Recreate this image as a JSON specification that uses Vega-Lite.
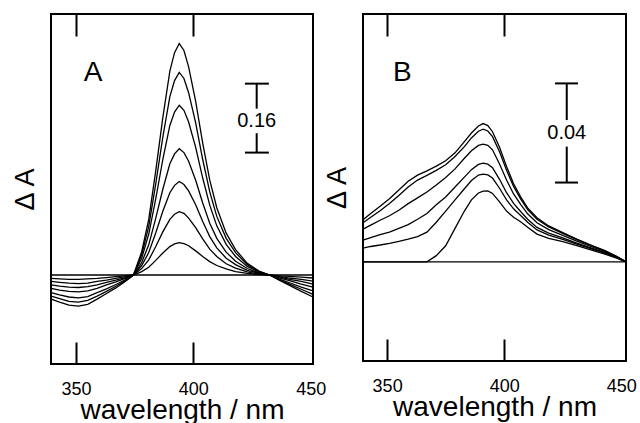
{
"$schema": "https://vega.github.io/schema/vega-lite/v6.json",
"padding": {"left": 10, "top": 12, "right": 0, "bottom": 0},
"spacing": 50,
"bounds": "flush",
"config": {
  "view": {"stroke": "black", "strokeWidth": 2},
  "font": "Liberation Sans",
  "axis": {"domain": false, "grid": false, "labelFont": "Liberation Sans", "labelFontSize": 18, "labelColor": "black", "titleFont": "Liberation Sans", "titleFontSize": 28, "titleFontWeight": "normal", "titleColor": "black", "tickColor": "black", "tickWidth": 2}
},
"datasets": {
"A": [
{"w":339.4,"c":0,"v":0},{"w":451,"c":0,"v":0},
{"w":339.4,"c":1,"v":-0.056},{"w":343,"c":1,"v":-0.063},{"w":347,"c":1,"v":-0.070},{"w":351,"c":1,"v":-0.072},{"w":355,"c":1,"v":-0.068},{"w":359,"c":1,"v":-0.056},{"w":363,"c":1,"v":-0.043},{"w":367,"c":1,"v":-0.030},{"w":371,"c":1,"v":-0.015},{"w":374.5,"c":1,"v":0},{"w":378,"c":1,"v":0.054},{"w":381,"c":1,"v":0.129},{"w":384,"c":1,"v":0.242},{"w":387,"c":1,"v":0.365},{"w":390,"c":1,"v":0.473},{"w":392,"c":1,"v":0.516},{"w":394,"c":1,"v":0.537},{"w":396,"c":1,"v":0.521},{"w":398,"c":1,"v":0.483},{"w":401,"c":1,"v":0.403},{"w":404,"c":1,"v":0.306},{"w":407,"c":1,"v":0.220},{"w":410,"c":1,"v":0.156},{"w":414,"c":1,"v":0.097},{"w":418,"c":1,"v":0.059},{"w":423,"c":1,"v":0.027},{"w":428,"c":1,"v":0.009},{"w":432.5,"c":1,"v":0},{"w":437,"c":1,"v":-0.013},{"w":441,"c":1,"v":-0.024},{"w":446,"c":1,"v":-0.038},{"w":451,"c":1,"v":-0.051},
{"w":339.4,"c":2,"v":-0.049},{"w":343,"c":2,"v":-0.055},{"w":347,"c":2,"v":-0.061},{"w":351,"c":2,"v":-0.063},{"w":355,"c":2,"v":-0.059},{"w":359,"c":2,"v":-0.049},{"w":363,"c":2,"v":-0.038},{"w":367,"c":2,"v":-0.026},{"w":371,"c":2,"v":-0.013},{"w":374.5,"c":2,"v":0},{"w":378,"c":2,"v":0.047},{"w":381,"c":2,"v":0.113},{"w":384,"c":2,"v":0.212},{"w":387,"c":2,"v":0.320},{"w":390,"c":2,"v":0.414},{"w":392,"c":2,"v":0.451},{"w":394,"c":2,"v":0.470},{"w":396,"c":2,"v":0.456},{"w":398,"c":2,"v":0.423},{"w":401,"c":2,"v":0.353},{"w":404,"c":2,"v":0.268},{"w":407,"c":2,"v":0.193},{"w":410,"c":2,"v":0.136},{"w":414,"c":2,"v":0.085},{"w":418,"c":2,"v":0.052},{"w":423,"c":2,"v":0.024},{"w":428,"c":2,"v":0.008},{"w":432.5,"c":2,"v":0},{"w":437,"c":2,"v":-0.012},{"w":441,"c":2,"v":-0.021},{"w":446,"c":2,"v":-0.033},{"w":451,"c":2,"v":-0.045},
{"w":339.4,"c":3,"v":-0.041},{"w":343,"c":3,"v":-0.046},{"w":347,"c":3,"v":-0.051},{"w":351,"c":3,"v":-0.053},{"w":355,"c":3,"v":-0.050},{"w":359,"c":3,"v":-0.041},{"w":363,"c":3,"v":-0.032},{"w":367,"c":3,"v":-0.022},{"w":371,"c":3,"v":-0.011},{"w":374.5,"c":3,"v":0},{"w":378,"c":3,"v":0.039},{"w":381,"c":3,"v":0.095},{"w":384,"c":3,"v":0.177},{"w":387,"c":3,"v":0.268},{"w":390,"c":3,"v":0.347},{"w":392,"c":3,"v":0.378},{"w":394,"c":3,"v":0.394},{"w":396,"c":3,"v":0.382},{"w":398,"c":3,"v":0.355},{"w":401,"c":3,"v":0.296},{"w":404,"c":3,"v":0.225},{"w":407,"c":3,"v":0.162},{"w":410,"c":3,"v":0.114},{"w":414,"c":3,"v":0.071},{"w":418,"c":3,"v":0.043},{"w":423,"c":3,"v":0.020},{"w":428,"c":3,"v":0.007},{"w":432.5,"c":3,"v":0},{"w":437,"c":3,"v":-0.010},{"w":441,"c":3,"v":-0.018},{"w":446,"c":3,"v":-0.028},{"w":451,"c":3,"v":-0.037},
{"w":339.4,"c":4,"v":-0.031},{"w":343,"c":4,"v":-0.035},{"w":347,"c":4,"v":-0.038},{"w":351,"c":4,"v":-0.039},{"w":355,"c":4,"v":-0.037},{"w":359,"c":4,"v":-0.031},{"w":363,"c":4,"v":-0.023},{"w":367,"c":4,"v":-0.016},{"w":371,"c":4,"v":-0.008},{"w":374.5,"c":4,"v":0},{"w":378,"c":4,"v":0.029},{"w":381,"c":4,"v":0.070},{"w":384,"c":4,"v":0.132},{"w":387,"c":4,"v":0.199},{"w":390,"c":4,"v":0.258},{"w":392,"c":4,"v":0.281},{"w":394,"c":4,"v":0.293},{"w":396,"c":4,"v":0.284},{"w":398,"c":4,"v":0.264},{"w":401,"c":4,"v":0.220},{"w":404,"c":4,"v":0.167},{"w":407,"c":4,"v":0.120},{"w":410,"c":4,"v":0.085},{"w":414,"c":4,"v":0.053},{"w":418,"c":4,"v":0.032},{"w":423,"c":4,"v":0.015},{"w":428,"c":4,"v":0.005},{"w":432.5,"c":4,"v":0},{"w":437,"c":4,"v":-0.007},{"w":441,"c":4,"v":-0.013},{"w":446,"c":4,"v":-0.021},{"w":451,"c":4,"v":-0.028},
{"w":339.4,"c":5,"v":-0.023},{"w":343,"c":5,"v":-0.026},{"w":347,"c":5,"v":-0.028},{"w":351,"c":5,"v":-0.029},{"w":355,"c":5,"v":-0.027},{"w":359,"c":5,"v":-0.023},{"w":363,"c":5,"v":-0.017},{"w":367,"c":5,"v":-0.012},{"w":371,"c":5,"v":-0.006},{"w":374.5,"c":5,"v":0},{"w":378,"c":5,"v":0.022},{"w":381,"c":5,"v":0.052},{"w":384,"c":5,"v":0.098},{"w":387,"c":5,"v":0.148},{"w":390,"c":5,"v":0.191},{"w":392,"c":5,"v":0.208},{"w":394,"c":5,"v":0.217},{"w":396,"c":5,"v":0.210},{"w":398,"c":5,"v":0.195},{"w":401,"c":5,"v":0.163},{"w":404,"c":5,"v":0.124},{"w":407,"c":5,"v":0.089},{"w":410,"c":5,"v":0.063},{"w":414,"c":5,"v":0.039},{"w":418,"c":5,"v":0.024},{"w":423,"c":5,"v":0.011},{"w":428,"c":5,"v":0.004},{"w":432.5,"c":5,"v":0},{"w":437,"c":5,"v":-0.005},{"w":441,"c":5,"v":-0.010},{"w":446,"c":5,"v":-0.015},{"w":451,"c":5,"v":-0.021},
{"w":339.4,"c":6,"v":-0.015},{"w":343,"c":6,"v":-0.017},{"w":347,"c":6,"v":-0.019},{"w":351,"c":6,"v":-0.020},{"w":355,"c":6,"v":-0.019},{"w":359,"c":6,"v":-0.015},{"w":363,"c":6,"v":-0.012},{"w":367,"c":6,"v":-0.008},{"w":371,"c":6,"v":-0.004},{"w":374.5,"c":6,"v":0},{"w":378,"c":6,"v":0.015},{"w":381,"c":6,"v":0.035},{"w":384,"c":6,"v":0.066},{"w":387,"c":6,"v":0.100},{"w":390,"c":6,"v":0.129},{"w":392,"c":6,"v":0.141},{"w":394,"c":6,"v":0.147},{"w":396,"c":6,"v":0.143},{"w":398,"c":6,"v":0.132},{"w":401,"c":6,"v":0.110},{"w":404,"c":6,"v":0.084},{"w":407,"c":6,"v":0.060},{"w":410,"c":6,"v":0.043},{"w":414,"c":6,"v":0.026},{"w":418,"c":6,"v":0.016},{"w":423,"c":6,"v":0.007},{"w":428,"c":6,"v":0.002},{"w":432.5,"c":6,"v":0},{"w":437,"c":6,"v":-0.004},{"w":441,"c":6,"v":-0.007},{"w":446,"c":6,"v":-0.010},{"w":451,"c":6,"v":-0.014},
{"w":339.4,"c":7,"v":-0.008},{"w":343,"c":7,"v":-0.009},{"w":347,"c":7,"v":-0.010},{"w":351,"c":7,"v":-0.010},{"w":355,"c":7,"v":-0.009},{"w":359,"c":7,"v":-0.008},{"w":363,"c":7,"v":-0.006},{"w":367,"c":7,"v":-0.004},{"w":371,"c":7,"v":-0.002},{"w":374.5,"c":7,"v":0},{"w":378,"c":7,"v":0.008},{"w":381,"c":7,"v":0.018},{"w":384,"c":7,"v":0.034},{"w":387,"c":7,"v":0.051},{"w":390,"c":7,"v":0.066},{"w":392,"c":7,"v":0.072},{"w":394,"c":7,"v":0.075},{"w":396,"c":7,"v":0.073},{"w":398,"c":7,"v":0.068},{"w":401,"c":7,"v":0.056},{"w":404,"c":7,"v":0.043},{"w":407,"c":7,"v":0.031},{"w":410,"c":7,"v":0.022},{"w":414,"c":7,"v":0.014},{"w":418,"c":7,"v":0.008},{"w":423,"c":7,"v":0.004},{"w":428,"c":7,"v":0.001},{"w":432.5,"c":7,"v":0},{"w":437,"c":7,"v":-0.002},{"w":441,"c":7,"v":-0.003},{"w":446,"c":7,"v":-0.005},{"w":451,"c":7,"v":-0.007}
],
"B": [
{"w":339.7,"c":0,"v":0},{"w":452,"c":0,"v":0},
{"w":339.7,"c":1,"v":0.0170},{"w":343,"c":1,"v":0.0195},{"w":347,"c":1,"v":0.0224},{"w":351,"c":1,"v":0.0255},{"w":355,"c":1,"v":0.0290},{"w":359,"c":1,"v":0.0325},{"w":363,"c":1,"v":0.0350},{"w":367,"c":1,"v":0.0367},{"w":371,"c":1,"v":0.0386},{"w":375,"c":1,"v":0.0408},{"w":379,"c":1,"v":0.0440},{"w":383,"c":1,"v":0.0485},{"w":386,"c":1,"v":0.0520},{"w":389,"c":1,"v":0.0548},{"w":391,"c":1,"v":0.0558},{"w":393,"c":1,"v":0.0550},{"w":395,"c":1,"v":0.0525},{"w":398,"c":1,"v":0.0462},{"w":401,"c":1,"v":0.0385},{"w":404,"c":1,"v":0.0315},{"w":407,"c":1,"v":0.0262},{"w":410,"c":1,"v":0.0218},{"w":414,"c":1,"v":0.0178},{"w":419,"c":1,"v":0.0145},{"w":425,"c":1,"v":0.0118},{"w":431,"c":1,"v":0.0092},{"w":437,"c":1,"v":0.0068},{"w":443,"c":1,"v":0.0045},{"w":448,"c":1,"v":0.0022},{"w":452,"c":1,"v":0},
{"w":339.7,"c":2,"v":0.0158},{"w":343,"c":2,"v":0.0180},{"w":347,"c":2,"v":0.0206},{"w":351,"c":2,"v":0.0235},{"w":355,"c":2,"v":0.0268},{"w":359,"c":2,"v":0.0302},{"w":363,"c":2,"v":0.0330},{"w":367,"c":2,"v":0.0349},{"w":371,"c":2,"v":0.0369},{"w":375,"c":2,"v":0.0392},{"w":379,"c":2,"v":0.0425},{"w":383,"c":2,"v":0.0465},{"w":386,"c":2,"v":0.0500},{"w":389,"c":2,"v":0.0527},{"w":391,"c":2,"v":0.0535},{"w":393,"c":2,"v":0.0528},{"w":395,"c":2,"v":0.0505},{"w":398,"c":2,"v":0.0444},{"w":401,"c":2,"v":0.0370},{"w":404,"c":2,"v":0.0304},{"w":407,"c":2,"v":0.0254},{"w":410,"c":2,"v":0.0211},{"w":414,"c":2,"v":0.0172},{"w":419,"c":2,"v":0.0141},{"w":425,"c":2,"v":0.0115},{"w":431,"c":2,"v":0.0090},{"w":437,"c":2,"v":0.0066},{"w":443,"c":2,"v":0.0044},{"w":448,"c":2,"v":0.0021},{"w":452,"c":2,"v":0},
{"w":339.7,"c":3,"v":0.0132},{"w":343,"c":3,"v":0.0148},{"w":347,"c":3,"v":0.0168},{"w":351,"c":3,"v":0.0186},{"w":355,"c":3,"v":0.0208},{"w":359,"c":3,"v":0.0235},{"w":363,"c":3,"v":0.0258},{"w":367,"c":3,"v":0.0282},{"w":371,"c":3,"v":0.0310},{"w":375,"c":3,"v":0.0340},{"w":379,"c":3,"v":0.0375},{"w":383,"c":3,"v":0.0418},{"w":386,"c":3,"v":0.0448},{"w":389,"c":3,"v":0.0470},{"w":391,"c":3,"v":0.0475},{"w":393,"c":3,"v":0.0470},{"w":395,"c":3,"v":0.0452},{"w":398,"c":3,"v":0.0395},{"w":401,"c":3,"v":0.0330},{"w":404,"c":3,"v":0.0274},{"w":407,"c":3,"v":0.0232},{"w":410,"c":3,"v":0.0194},{"w":414,"c":3,"v":0.0158},{"w":419,"c":3,"v":0.0130},{"w":425,"c":3,"v":0.0107},{"w":431,"c":3,"v":0.0084},{"w":437,"c":3,"v":0.0062},{"w":443,"c":3,"v":0.0041},{"w":448,"c":3,"v":0.0020},{"w":452,"c":3,"v":0},
{"w":339.7,"c":4,"v":0.0088},{"w":343,"c":4,"v":0.0098},{"w":347,"c":4,"v":0.0110},{"w":351,"c":4,"v":0.0120},{"w":355,"c":4,"v":0.0135},{"w":359,"c":4,"v":0.0150},{"w":363,"c":4,"v":0.0172},{"w":367,"c":4,"v":0.0195},{"w":371,"c":4,"v":0.0230},{"w":375,"c":4,"v":0.0262},{"w":379,"c":4,"v":0.0302},{"w":383,"c":4,"v":0.0342},{"w":386,"c":4,"v":0.0372},{"w":389,"c":4,"v":0.0393},{"w":391,"c":4,"v":0.0398},{"w":393,"c":4,"v":0.0394},{"w":395,"c":4,"v":0.0380},{"w":398,"c":4,"v":0.0333},{"w":401,"c":4,"v":0.0279},{"w":404,"c":4,"v":0.0236},{"w":407,"c":4,"v":0.0203},{"w":410,"c":4,"v":0.0172},{"w":414,"c":4,"v":0.0139},{"w":419,"c":4,"v":0.0116},{"w":425,"c":4,"v":0.0097},{"w":431,"c":4,"v":0.0076},{"w":437,"c":4,"v":0.0056},{"w":443,"c":4,"v":0.0037},{"w":448,"c":4,"v":0.0018},{"w":452,"c":4,"v":0},
{"w":339.7,"c":5,"v":0.0055},{"w":343,"c":5,"v":0.0062},{"w":347,"c":5,"v":0.0068},{"w":351,"c":5,"v":0.0075},{"w":355,"c":5,"v":0.0083},{"w":359,"c":5,"v":0.0092},{"w":363,"c":5,"v":0.0102},{"w":367,"c":5,"v":0.0120},{"w":371,"c":5,"v":0.0160},{"w":375,"c":5,"v":0.0205},{"w":379,"c":5,"v":0.0250},{"w":383,"c":5,"v":0.0295},{"w":386,"c":5,"v":0.0328},{"w":389,"c":5,"v":0.0350},{"w":391,"c":5,"v":0.0354},{"w":393,"c":5,"v":0.0351},{"w":395,"c":5,"v":0.0338},{"w":398,"c":5,"v":0.0297},{"w":401,"c":5,"v":0.0250},{"w":404,"c":5,"v":0.0214},{"w":407,"c":5,"v":0.0187},{"w":410,"c":5,"v":0.0160},{"w":414,"c":5,"v":0.0129},{"w":419,"c":5,"v":0.0108},{"w":425,"c":5,"v":0.0091},{"w":431,"c":5,"v":0.0072},{"w":437,"c":5,"v":0.0053},{"w":443,"c":5,"v":0.0035},{"w":448,"c":5,"v":0.0017},{"w":452,"c":5,"v":0},
{"w":339.7,"c":6,"v":0},{"w":367,"c":6,"v":0},{"w":371,"c":6,"v":0.0025},{"w":375,"c":6,"v":0.0065},{"w":379,"c":6,"v":0.0135},{"w":383,"c":6,"v":0.0205},{"w":386,"c":6,"v":0.0250},{"w":389,"c":6,"v":0.0278},{"w":391,"c":6,"v":0.0285},{"w":393,"c":6,"v":0.0286},{"w":395,"c":6,"v":0.0276},{"w":398,"c":6,"v":0.0242},{"w":401,"c":6,"v":0.0205},{"w":404,"c":6,"v":0.0180},{"w":407,"c":6,"v":0.0162},{"w":410,"c":6,"v":0.0140},{"w":414,"c":6,"v":0.0112},{"w":419,"c":6,"v":0.0095},{"w":425,"c":6,"v":0.0082},{"w":431,"c":6,"v":0.0065},{"w":437,"c":6,"v":0.0048},{"w":443,"c":6,"v":0.0031},{"w":448,"c":6,"v":0.0015},{"w":452,"c":6,"v":0}
]
},
"hconcat": [
{
 "width": 262, "height": 350,
 "resolve": {"axis": {"x": "independent"}},
 "layer": [
  {"data": {"name": "A"}, "mark": {"type": "line", "color": "black", "strokeWidth": 1.3},
   "encoding": {
    "x": {"field": "w", "type": "quantitative", "scale": {"domain": [339.35, 451], "nice": false, "zero": false},
          "axis": {"orient": "bottom", "values": [350, 400, 450], "tickSize": -22, "labelPadding": 38, "labelFlush": false, "title": "wavelength / nm", "titlePadding": -2,
                   "tickOpacity": {"condition": {"test": "datum.value == 450", "value": 0}, "value": 1}}},
    "y": {"field": "v", "type": "quantitative", "scale": {"domain": [-0.2065, 0.6056], "nice": false, "zero": false},
          "axis": {"title": "Δ A", "labels": false, "ticks": false, "titlePadding": 12, "titleFontSize": 27}},
    "detail": {"field": "c", "type": "nominal"}
   }},
  {"data": {"values": [{}]}, "mark": {"type": "text", "fontSize": 28, "font": "Liberation Sans", "color": "black"},
   "encoding": {
    "x": {"datum": 357.3, "type": "quantitative", "axis": {"orient": "top", "values": [350, 400], "tickSize": -22, "labels": false, "title": null}},
    "y": {"datum": 0.469, "type": "quantitative"},
    "text": {"value": "A"}}},
  {"data": {"values": [{}]}, "mark": {"type": "rule", "color": "black", "strokeWidth": 2},
   "encoding": {"x": {"datum": 427, "axis": null}, "y": {"datum": 0.284}, "y2": {"datum": 0.329}}},
  {"data": {"values": [{}]}, "mark": {"type": "rule", "color": "black", "strokeWidth": 2},
   "encoding": {"x": {"datum": 427, "axis": null}, "y": {"datum": 0.386}, "y2": {"datum": 0.444}}},
  {"data": {"values": [{}]}, "mark": {"type": "rule", "color": "black", "strokeWidth": 2},
   "encoding": {"x": {"datum": 422, "axis": null}, "x2": {"datum": 432.2}, "y": {"datum": 0.284}}},
  {"data": {"values": [{}]}, "mark": {"type": "rule", "color": "black", "strokeWidth": 2},
   "encoding": {"x": {"datum": 422, "axis": null}, "x2": {"datum": 432.2}, "y": {"datum": 0.444}}},
  {"data": {"values": [{}]}, "mark": {"type": "text", "fontSize": 20, "font": "Liberation Sans", "color": "black"},
   "encoding": {"x": {"datum": 427, "axis": null}, "y": {"datum": 0.357}, "text": {"value": "0.16"}}}
 ]
},
{
 "width": 263, "height": 347,
 "resolve": {"axis": {"x": "independent"}},
 "layer": [
  {"data": {"name": "B"}, "mark": {"type": "line", "color": "black", "strokeWidth": 1.3},
   "encoding": {
    "x": {"field": "w", "type": "quantitative", "scale": {"domain": [339.7, 452], "nice": false, "zero": false},
          "axis": {"orient": "bottom", "values": [350, 400, 450], "tickSize": -22, "labelPadding": 38, "labelFlush": false, "title": "wavelength / nm", "titlePadding": -2,
                   "tickOpacity": {"condition": {"test": "datum.value == 450", "value": 0}, "value": 1}}},
    "y": {"field": "v", "type": "quantitative", "scale": {"domain": [-0.04, 0.10], "nice": false, "zero": false},
          "axis": {"title": "Δ A", "labels": false, "ticks": false, "titlePadding": 12, "titleFontSize": 27}},
    "detail": {"field": "c", "type": "nominal"}
   }},
  {"data": {"values": [{}]}, "mark": {"type": "text", "fontSize": 28, "font": "Liberation Sans", "color": "black"},
   "encoding": {
    "x": {"datum": 356.5, "type": "quantitative", "axis": {"orient": "top", "values": [350, 400], "tickSize": -22, "labels": false, "title": null}},
    "y": {"datum": 0.076, "type": "quantitative"},
    "text": {"value": "B"}}},
  {"data": {"values": [{}]}, "mark": {"type": "rule", "color": "black", "strokeWidth": 2},
   "encoding": {"x": {"datum": 426.7, "axis": null}, "y": {"datum": 0.032}, "y2": {"datum": 0.0465}}},
  {"data": {"values": [{}]}, "mark": {"type": "rule", "color": "black", "strokeWidth": 2},
   "encoding": {"x": {"datum": 426.7, "axis": null}, "y": {"datum": 0.0572}, "y2": {"datum": 0.072}}},
  {"data": {"values": [{}]}, "mark": {"type": "rule", "color": "black", "strokeWidth": 2},
   "encoding": {"x": {"datum": 421.7, "axis": null}, "x2": {"datum": 431.5}, "y": {"datum": 0.032}}},
  {"data": {"values": [{}]}, "mark": {"type": "rule", "color": "black", "strokeWidth": 2},
   "encoding": {"x": {"datum": 421.7, "axis": null}, "x2": {"datum": 431.5}, "y": {"datum": 0.072}}},
  {"data": {"values": [{}]}, "mark": {"type": "text", "fontSize": 20, "font": "Liberation Sans", "color": "black"},
   "encoding": {"x": {"datum": 426.7, "axis": null}, "y": {"datum": 0.0518}, "text": {"value": "0.04"}}}
 ]
}
]
}
